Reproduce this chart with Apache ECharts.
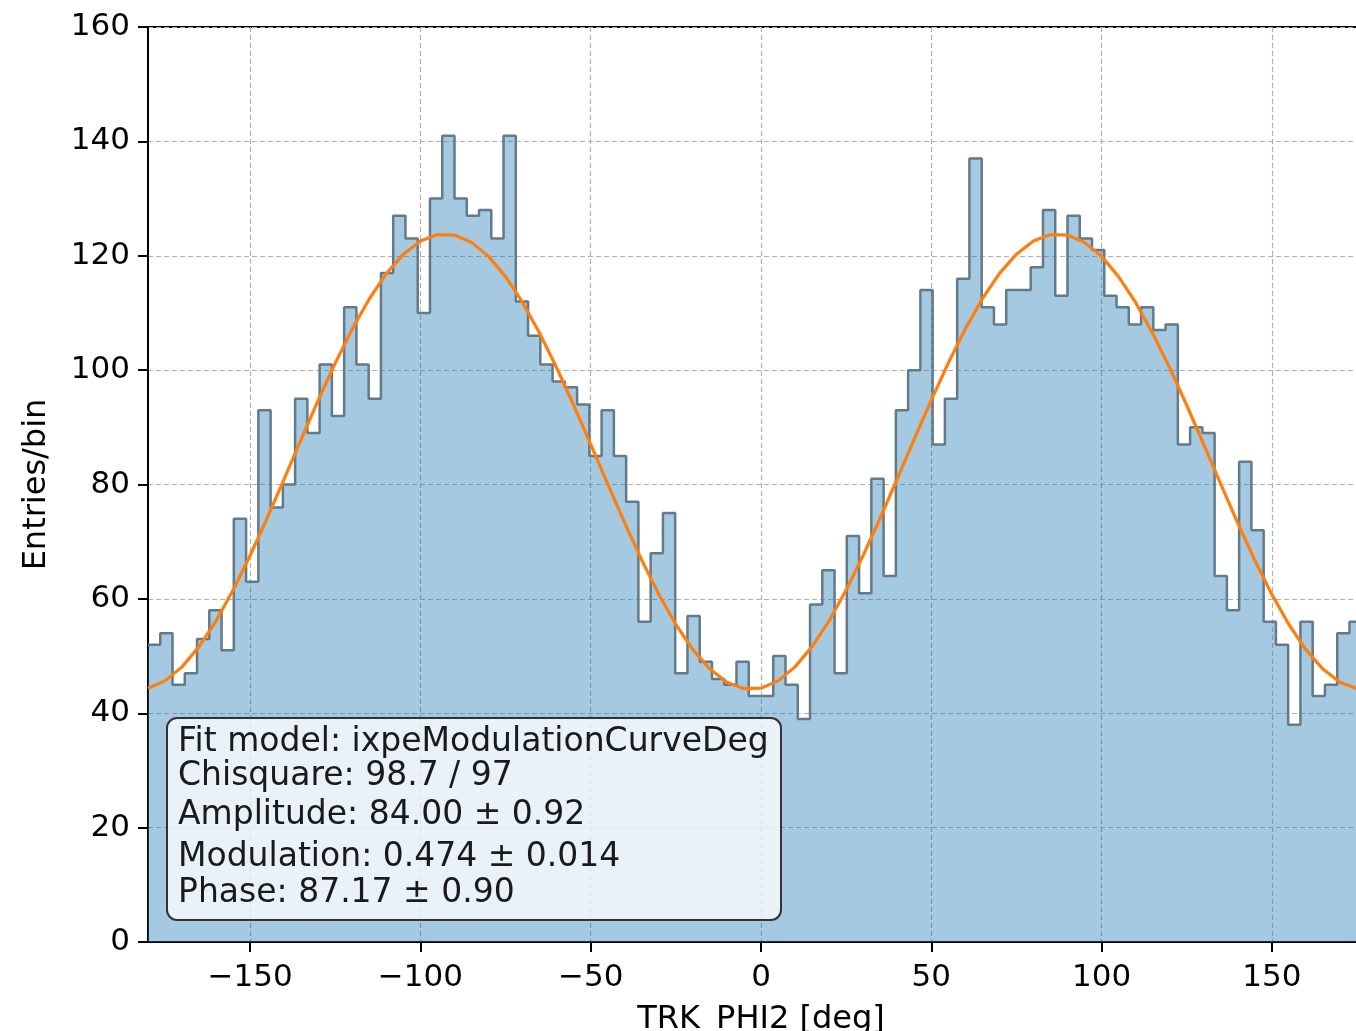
<!DOCTYPE html>
<html>
<head>
<meta charset="utf-8">
<title>TRK_PHI2 modulation curve</title>
<script src="https://cdn.jsdelivr.net/npm/echarts@6/dist/echarts.min.js"></script>
<style>
html, body { margin: 0; padding: 0; background: #fff; }
#chart { width: 1356px; height: 1031px; }
</style>
</head>
<body>
<div id="chart"></div>
<script>
// histogram: 100 bins of 3.6 deg between -180 and 180
const phiMin = -180
const phiMax = 180
const binWidth = 3.6
const counts = [
  52, 54, 45, 47, 53, 58, 51, 74, 63, 93,
  76, 80, 95, 89, 101, 92, 111, 101, 95, 117,
  127, 123, 110, 130, 141, 130, 127, 128, 123, 141,
  112, 106, 101, 98, 97, 94, 85, 93, 85, 77,
  56, 68, 75, 47, 57, 49, 46, 45, 49, 43,
  43, 50, 45, 39, 59, 65, 47, 71, 61, 81,
  64, 93, 100, 114, 87, 95, 116, 137, 111, 108,
  114, 114, 118, 128, 113, 127, 123, 121, 113, 111,
  108, 111, 107, 108, 87, 90, 89, 64, 58, 84,
  72, 56, 52, 38, 56, 43, 45, 54, 56, 50
]

// orange fit curve, every 5 deg
const fitPhi = [
  -180, -175, -170, -165, -160, -155, -150, -145, -140, -135, -130, -125,
  -120, -115, -110, -105, -100, -95, -90, -85, -80, -75, -70, -65,
  -60, -55, -50, -45, -40, -35, -30, -25, -20, -15, -10, -5,
  0, 5, 10, 15, 20, 25, 30, 35, 40, 45, 50, 55,
  60, 65, 70, 75, 80, 85, 90, 95, 100, 105, 110, 115,
  120, 125, 130, 135, 140, 145, 150, 155, 160, 165, 170, 175, 180
]
const fitValues = [
  44.38, 45.66, 48.11, 51.65, 56.17, 61.54, 67.59, 74.14, 80.99, 87.93, 94.75, 101.24,
  107.21, 112.48, 116.88, 120.28, 122.58, 123.70, 123.62, 122.34, 119.89, 116.35, 111.83, 106.46,
  100.41, 93.86, 87.01, 80.07, 73.25, 66.76, 60.79, 55.52, 51.12, 47.72, 45.43, 44.30,
  44.38, 45.66, 48.11, 51.65, 56.17, 61.54, 67.59, 74.14, 80.99, 87.93, 94.75, 101.24,
  107.21, 112.48, 116.88, 120.28, 122.58, 123.70, 123.62, 122.34, 119.89, 116.35, 111.83, 106.46,
  100.41, 93.86, 87.01, 80.07, 73.25, 66.76, 60.79, 55.52, 51.12, 47.72, 45.43, 44.30, 44.38
]

const xTicks = [-150, -100, -50, 0, 50, 100, 150]
const yMax = 160
const yStep = 20

const fitText = [
  'Fit model: ixpeModulationCurveDeg',
  'Chisquare: 98.7 / 97',
  'Amplitude: 84.00 \u00b1 0.92',
  'Modulation: 0.474 \u00b1 0.014',
  'Phase: 87.17 \u00b1 0.90'
]

const font = 'DejaVu Sans'

// step line needs the left edge of each bin, plus the closing edge
const histData = counts.map((c, i) => [phiMin + i * binWidth, c])
histData.push([phiMax, counts[counts.length - 1]])

const fitData = fitPhi.map((p, i) => [p, fitValues[i]])

// text box in the lower left corner
const boxLineY = [742, 776, 815, 857, 893]
const boxGraphic = [
  {
    type: 'rect',
    z: 100,
    shape: { x: 167, y: 718, width: 614, height: 202, r: 10 },
    style: { fill: 'rgba(255,255,255,0.75)', stroke: '#333', lineWidth: 2 }
  }
].concat(fitText.map((t, i) => ({
  type: 'text',
  z: 101,
  style: {
    text: t,
    x: 178,
    y: boxLineY[i],
    font: '33px "DejaVu Sans"',
    fill: '#1a1a1a',
    verticalAlign: 'middle',
    textVerticalAlign: 'middle'
  }
})))

const option = {
  animation: false,
  backgroundColor: '#fff',
  grid: {
    left: 148,
    top: 27,
    bottom: 89,
    // the right part of the frame runs past the picture edge
    width: 1226,
    outerBoundsMode: 'none',
    containLabel: false,
    show: true,
    borderColor: '#000',
    borderWidth: 2,
    backgroundColor: 'transparent'
  },
  xAxis: {
    type: 'value',
    min: phiMin,
    max: phiMax,
    name: 'TRK_PHI2 [deg]',
    nameLocation: 'middle',
    nameGap: 62,
    nameTextStyle: { fontFamily: font, fontSize: 32, color: '#000' },
    axisLine: { show: true, onZero: false, lineStyle: { color: '#000', width: 2 } },
    axisTick: { show: true, length: 10, customValues: xTicks, lineStyle: { color: '#000', width: 2 } },
    axisLabel: {
      customValues: xTicks,
      fontFamily: font,
      fontSize: 31,
      color: '#000',
      margin: 20,
      formatter: v => String(v).replace('-', '\u2212')
    },
    splitLine: { show: true, lineStyle: { color: '#b0b0b0', width: 1.2, type: [5, 3] } }
  },
  yAxis: {
    type: 'value',
    min: 0,
    max: yMax,
    interval: yStep,
    name: 'Entries/bin',
    nameLocation: 'middle',
    nameGap: 95,
    nameTextStyle: { fontFamily: font, fontSize: 32, color: '#000' },
    axisLine: { show: true, onZero: false, lineStyle: { color: '#000', width: 2 } },
    axisTick: { show: true, length: 10, lineStyle: { color: '#000', width: 2 } },
    axisLabel: { fontFamily: font, fontSize: 31, color: '#000', margin: 18 },
    splitLine: { show: true, lineStyle: { color: '#b0b0b0', width: 1.2, type: [5, 3] } }
  },
  series: [
    {
      name: 'data',
      type: 'line',
      step: 'end',
      data: histData,
      symbol: 'none',
      lineStyle: { color: '#637a89', width: 2.5 },
      areaStyle: { color: 'rgba(31,119,180,0.4)', opacity: 1 },
      z: 2
    },
    {
      name: 'fit',
      type: 'line',
      data: fitData,
      symbol: 'none',
      lineStyle: { color: '#ff7f0e', width: 3.2 },
      z: 3
    }
  ],
  graphic: boxGraphic
}

const chart = echarts.init(document.getElementById('chart'))
chart.setOption(option)
window.addEventListener('resize', function() {
  chart.resize()
})
</script>
</body>
</html>
